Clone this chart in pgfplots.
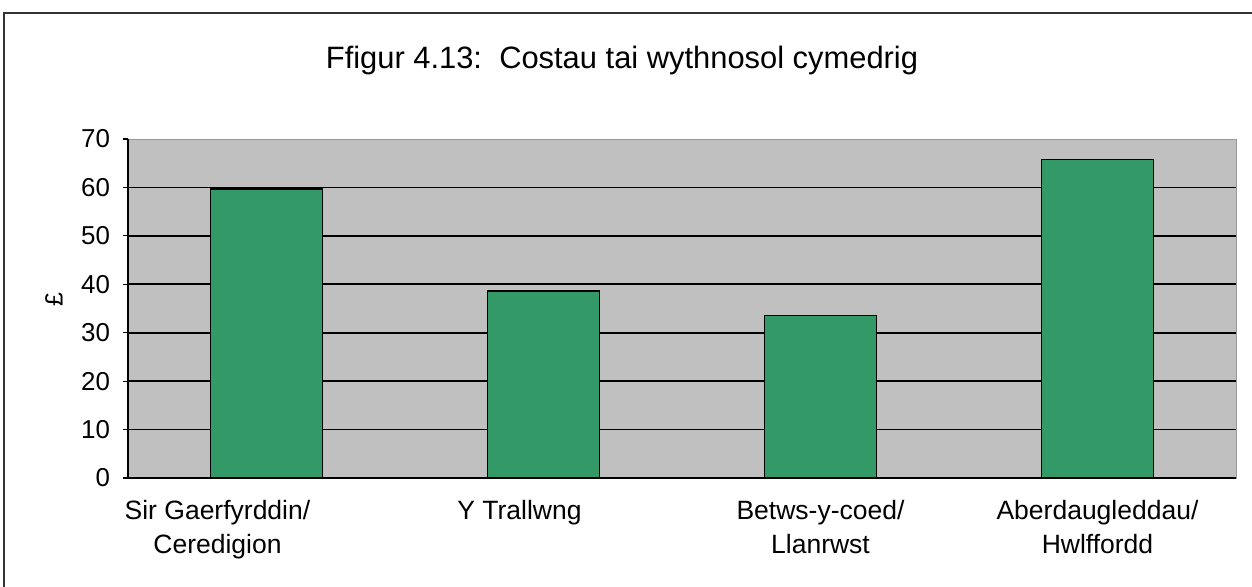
\documentclass[border=0pt]{standalone}
\usepackage{fontspec}
\setmainfont{Liberation Sans}
\usepackage{pgfplots}
\pgfplotsset{compat=1.18}
\definecolor{barfill}{RGB}{51,153,102}
\definecolor{plotbg}{RGB}{192,192,192}
\begin{document}
\begin{tikzpicture}
\useasboundingbox (0bp,0bp) rectangle (626bp,293.5bp);
% outer frame (right and bottom edges lie outside the crop)
\draw[line width=1.2bp, black!80] (2bp,0bp) -- (2bp,287bp) -- (626bp,287bp);
\node[font=\fontsize{15.5}{18}\selectfont] at (311bp,263bp) {Ffigur 4.13:\ \ Costau tai wythnosol cymedrig};
\node[rotate=90, font=\fontsize{12.5}{14}\selectfont] at (27bp,143.5bp) {£};
\begin{axis}[
  at={(64bp,54.5bp)}, anchor=south west,
  scale only axis, width=554bp, height=169.5bp,
  xmin=-0.5, xmax=3.5, ymin=0, ymax=70,
  ytick={0,10,...,60},
  extra y ticks={70},
  extra y tick style={grid=none},
  % label positions as in the original (first two sit left of their bars)
  xtick={-0.177,0.913,2,3},
  xticklabels={{Sir Gaerfyrddin/\\Ceredigion},{Y Trallwng},{Betws-y-coed/\\Llanrwst},{Aberdaugleddau/\\Hwlffordd}},
  major x tick style={draw=none},
  extra x ticks={-0.5,0.5,1.5,2.5,3.5},
  extra x tick labels={},
  extra x tick style={grid=none, tick style={black, line width=0.6bp}, tickwidth=2.5bp},
  axis lines*=left,
  axis line style={black, line width=0.8bp, -},
  axis background/.style={fill=plotbg, draw=black!40},
  tick align=outside, tickwidth=2.5bp,
  tick style={black, line width=0.6bp},
  ymajorgrids, grid style={black, line width=0.8bp},
  yticklabel style={font=\fontsize{13}{14}\selectfont, xshift=-3bp},
  xticklabel style={font=\fontsize{13.3}{17}\selectfont, align=center, anchor=north, yshift=-5bp},
  /pgf/number format/assume math mode=true,
  ybar, bar width=56bp,
]
\addplot[fill=barfill, draw=black, line width=0.7bp] coordinates {(0,59.7) (1,38.6) (2,33.5) (3,65.8)};
\end{axis}
\end{tikzpicture}
\end{document}
